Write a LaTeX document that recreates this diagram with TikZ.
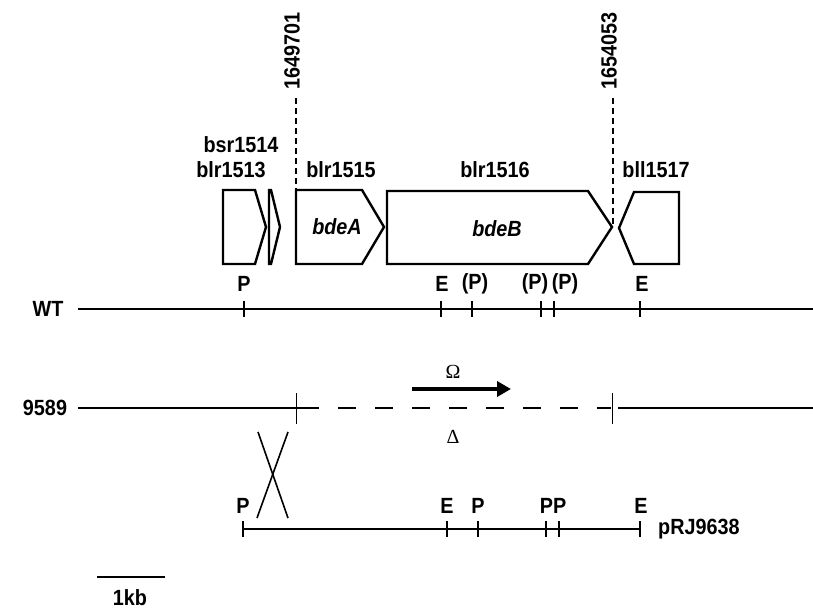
\documentclass[tikz,border=0pt]{standalone}
\usepackage{fontspec}
\setmainfont{Liberation Sans}[FakeStretch=0.9]
\newfontfamily\serifgreek{Liberation Serif}
\usetikzlibrary{arrows.meta}
\tikzset{
  lbl/.style={font=\fontsize{22}{26}\selectfont\bfseries, inner sep=0pt},
  genelbl/.style={font=\fontsize{22}{26}\selectfont\bfseries\itshape, inner sep=0pt},
  gene/.style={draw, line width=2.4pt, line join=miter},
  mapline/.style={line width=2.2pt},
  tick/.style={line width=2pt},
  thintick/.style={line width=0.9pt},
  posdash/.style={line width=2pt, dash pattern=on 6pt off 4pt},
  greek/.style={font=\serifgreek\fontsize{20}{24}\selectfont, inner sep=0pt}
}
\begin{document}
\begin{tikzpicture}[x=1pt,y=-1pt]
\useasboundingbox (0,0) rectangle (813,609);

% genes
\draw[gene] (223,190) -- (255,190) -- (266,227) -- (255,264) -- (223,264) -- cycle;
\draw[gene] (269,190) -- (271,190) -- (280,227) -- (271,264) -- (269,264) -- cycle;
\draw[gene] (296,190) -- (362,190) -- (384,227) -- (362,264) -- (296,264) -- cycle;
\draw[gene] (387,191) -- (588,191) -- (612,227) -- (588,264) -- (387,264) -- cycle;
\draw[gene] (679,192) -- (634,192) -- (619,228) -- (634,264) -- (679,264) -- cycle;

\node[genelbl] (bdeA) at (337,227) {bdeA};
\node[genelbl] (bdeB) at (497,229) {bdeB};

\node[lbl] (bsr1514) at (241,145) {bsr1514};
\node[lbl] (blr1513) at (231,170) {blr1513};
\node[lbl] (blr1515) at (341,170) {blr1515};
\node[lbl] (blr1516) at (495,170) {blr1516};
\node[lbl] (bll1517) at (656,170) {bll1517};

% genome positions
\node[lbl, rotate=90] (pos1) at (292,51) {1649701};
\node[lbl, rotate=90] (pos2) at (609,51) {1654053};
\coordinate (p1top) at (296,98);
\coordinate (p1bot) at (296,190);
\coordinate (p2top) at (613,98);
\coordinate (p2bot) at (613,226);
\draw[posdash] (p1top) -- (p1bot);
\draw[posdash] (p2top) -- (p2bot);

% WT line
\node[lbl] (WT) at (48,309) {WT};
\coordinate (wtL) at (78,309);
\coordinate (wtR) at (813,309);
\draw[mapline] (wtL) -- (wtR);
\foreach \x in {244,441,472,541,554,640} \draw[tick] (\x,301) -- (\x,317);
\node[lbl] (wP1) at (244,284) {P};
\node[lbl] (wE1) at (442,284) {E};
\node[lbl] (wP2) at (475,284) {(P)};
\node[lbl] (wP3) at (535,284) {(P)};
\node[lbl] (wP4) at (565,284) {(P)};
\node[lbl] (wE2) at (642,284) {E};

% 9589 line
\node[lbl] (m9589) at (45,408) {9589};
\coordinate (mL) at (78,408);
\coordinate (mA) at (319,408);
\coordinate (mB) at (338,408);
\coordinate (mC) at (611,408);
\coordinate (mD) at (618,408);
\coordinate (mR) at (813,408);
\draw[mapline] (mL) -- (mA);
\draw[mapline, dash pattern=on 18pt off 19pt] (mB) -- (mC);
\draw[mapline] (mD) -- (mR);
\draw[thintick] (296,393) -- (296,424);
\draw[thintick] (612,393) -- (612,424);

\node[greek] (omega) at (453,372) {Ω};
\coordinate (arrL) at (412,389);
\coordinate (arrR) at (511,389);
\draw[line width=4pt, -{Triangle[length=14pt,width=15pt]}] (arrL) -- (arrR);
\node[greek] (delta) at (453,437) {Δ};

% crossover
\draw[line width=1.6pt] (258,432) -- (288,518);
\draw[line width=1.6pt] (288,432) -- (257,518);

% pRJ9638
\coordinate (pL) at (243,529);
\coordinate (pR) at (640,529);
\draw[mapline] (pL) -- (pR);
\foreach \x in {243,447,478,546,559,640} \draw[tick] (\x,521) -- (\x,537);
\node[lbl] (qP1) at (243,506) {P};
\node[lbl] (qE1) at (447,506) {E};
\node[lbl] (qP2) at (478,506) {P};
\node[lbl] (qPP) at (553,506) {PP};
\node[lbl] (qE2) at (641,506) {E};
\node[lbl, anchor=west] (pRJ) at (658,529) {pRJ9638};

% scale bar
\coordinate (sbL) at (97,577);
\coordinate (sbR) at (165,577);
\draw[line width=1.3pt] (sbL) -- (sbR);
\node[lbl] (kb) at (130,598) {1kb};
\end{tikzpicture}
\end{document}
